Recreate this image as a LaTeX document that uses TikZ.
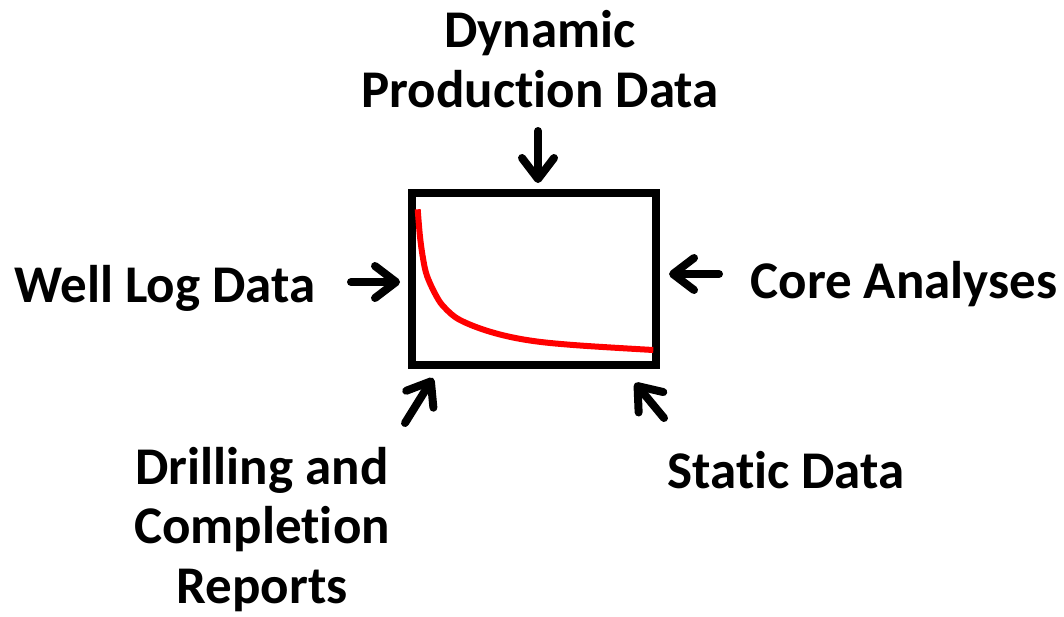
\documentclass[tikz,border=0pt]{standalone}
\usepackage{fontspec}
\setmainfont{Carlito}[Ligatures={NoCommon}]
\usetikzlibrary{arrows.meta}
\begin{document}
\begin{tikzpicture}[x=1pt,y=-1pt,
  lbl/.style={font=\fontsize{53}{59.5}\selectfont\bfseries, align=center, inner sep=0pt, anchor=base},
  arr/.style={line width=8pt, line cap=round, -{Straight Barb[length=21pt,width=32pt,round]}},
  framebox/.style={draw, line width=8.5pt, minimum width=244pt, minimum height=172pt, inner sep=0pt},
  curve/.style={draw=red, line width=6pt}]
\useasboundingbox[fill=white] (0,0) rectangle (1064,616);
\node[framebox] (box) at (534,279) {};
\draw[curve] plot[smooth, tension=0.6] coordinates {(417.7,209.3) (420,236.7) (423.3,260) (427.3,276.7) (436.7,296.7) (445,308) (460,320) (490,331.7) (526.7,340) (573.3,345) (653.3,350)};
\node[lbl] (dyn) at (540,107) {Dynamic\\Production Data};
\node[lbl] (well) at (165,302) {Well Log Data};
\node[lbl] (core) at (904,298) {Core Analyses};
\node[lbl] (drill) at (262,603) {Drilling and\\Completion\\Reports};
\node[lbl] (static) at (786,488) {Static Data};
\coordinate (t1) at (538,131); \coordinate (h1) at (538,183);
\coordinate (t2) at (351,282); \coordinate (h2) at (400,282);
\coordinate (t3) at (719,274); \coordinate (h3) at (669,274);
\coordinate (t4) at (405,423); \coordinate (h4) at (433,378);
\coordinate (t5) at (664,418); \coordinate (h5) at (635,383);
\draw[arr] (t1) -- (h1);
\draw[arr] (t2) -- (h2);
\draw[arr] (t3) -- (h3);
\draw[arr] (t4) -- (h4);
\draw[arr] (t5) -- (h5);
\end{tikzpicture}
\end{document}
